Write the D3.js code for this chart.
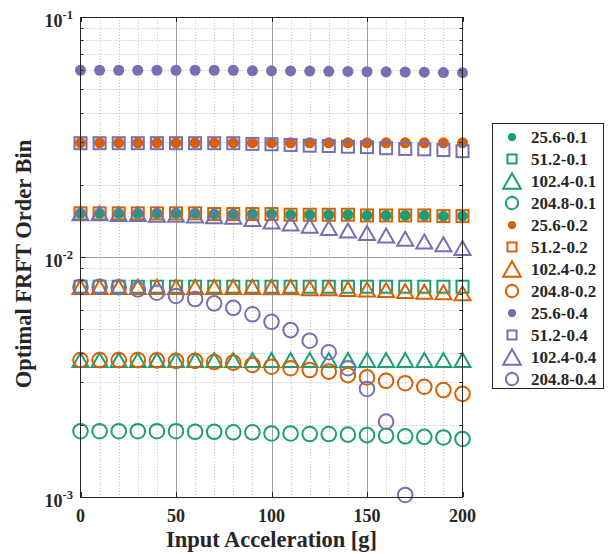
<!DOCTYPE html>
<html>
<head>
<meta charset="utf-8">
<script src="https://cdn.jsdelivr.net/npm/d3@7"></script>
<style>
  body { margin: 0; background: #fff; }
  svg text { font-family: "Liberation Serif", "Times New Roman", serif; font-weight: bold; fill: #262626; }
</style>
</head>
<body>
<svg id="chart" width="610" height="554"></svg>
<script>
// input acceleration [g]
const accel = d3.range(0, 201, 10);

// series (optimal FRFT order bin)
const g256_01  = [0.0152,0.0152,0.0152,0.0152,0.0152,0.0152,0.0152,0.0151,0.0151,0.0151,0.0151,0.0150,0.0150,0.0150,0.0150,0.0149,0.0149,0.0149,0.0149,0.0148,0.0148];
const g512_01  = [0.00752,0.00752,0.00752,0.00752,0.00752,0.00752,0.00752,0.00752,0.00752,0.00752,0.00752,0.00752,0.00752,0.00752,0.00752,0.00752,0.00752,0.00752,0.00752,0.00752,0.00752];
const g1024_01 = [0.00372,0.00372,0.00372,0.00372,0.00372,0.00372,0.00372,0.00372,0.00372,0.00372,0.00372,0.00372,0.00372,0.00372,0.00372,0.00372,0.00372,0.00372,0.00372,0.00372,0.00372];
const g2048_01 = [0.00188,0.00188,0.00188,0.00188,0.00188,0.00188,0.00187,0.00187,0.00186,0.00186,0.00184,0.00184,0.00183,0.00183,0.00182,0.00181,0.00180,0.00179,0.00178,0.00177,0.001745];
const o256_02  = [0.0299,0.0299,0.0299,0.0299,0.0299,0.0299,0.0299,0.0299,0.0299,0.0299,0.0299,0.0299,0.0299,0.0299,0.0299,0.0299,0.0299,0.0299,0.0299,0.0299,0.0299];
const o512_02  = [0.0152,0.0152,0.0152,0.0152,0.0152,0.0152,0.0152,0.0151,0.0151,0.0151,0.0151,0.0150,0.0150,0.0150,0.0150,0.0149,0.0149,0.0149,0.0149,0.0148,0.0148];
const o1024_02 = [0.0075,0.0075,0.0075,0.0075,0.0075,0.0075,0.0075,0.0075,0.0075,0.0075,0.00748,0.00748,0.00741,0.00741,0.00736,0.00733,0.00729,0.00722,0.00717,0.00713,0.00706];
const o2048_02 = [0.00372,0.00372,0.00372,0.00372,0.00371,0.00369,0.00369,0.00365,0.00363,0.00355,0.00349,0.00344,0.00338,0.00333,0.00322,0.00315,0.00305,0.00298,0.00288,0.00279,0.00269];
const p256_04  = [0.0600,0.0600,0.0600,0.0600,0.0600,0.0600,0.0600,0.0600,0.0600,0.0597,0.0597,0.0596,0.0595,0.0594,0.0593,0.0592,0.0591,0.0590,0.0589,0.0587,0.0586];
const p512_04  = [0.0298,0.0298,0.0298,0.0298,0.0298,0.0298,0.0298,0.0298,0.0298,0.0296,0.0295,0.0293,0.0291,0.0290,0.0288,0.0287,0.0284,0.0282,0.0281,0.0279,0.0276];
const p1024_04 = [0.0152,0.0152,0.0151,0.0151,0.0150,0.0150,0.0149,0.0148,0.0147,0.0144,0.01405,0.0138,0.0135,0.0132,0.0129,0.0126,0.0123,0.0119,0.0116,0.0113,0.0109];
const p2048_04 = [0.00752,0.00752,0.00748,0.00733,0.00710,0.00688,0.00668,0.00641,0.00614,0.00577,0.00537,0.00496,0.00448,0.00401,0.00344,0.00282,0.00206,0.00102,null,null,null];

const seriesNames = ["25.6-0.1","51.2-0.1","102.4-0.1","204.8-0.1","25.6-0.2","51.2-0.2","102.4-0.2","204.8-0.2","25.6-0.4","51.2-0.4","102.4-0.4","204.8-0.4"];
const seriesValues = [g256_01,g512_01,g1024_01,g2048_01,o256_02,o512_02,o1024_02,o2048_02,p256_04,p512_04,p1024_04,p2048_04];
const xTicks = [0, 50, 100, 150, 200];
const yTicks = [1e-3, 1e-2, 1e-1];

const colors = ["#1b9e77", "#d95f02", "#7570b3"];
const shapes = ["dot", "square", "triangle", "circle"];

const svg = d3.select("#chart");
const L = 80.5, R = 462.5, T = 17, B = 497;

const x = d3.scaleLinear().domain([0, 200]).range([L, R]);
const y = d3.scaleLog().domain([1e-3, 1e-1]).range([B, T]);

// --- grid ---
const grid = svg.append("g");
const minorX = d3.range(10, 200, 10).filter(v => v % 50 !== 0);
grid.selectAll(".mx").data(minorX).enter().append("line")
  .attr("x1", d => Math.round(x(d)) + 0.5).attr("x2", d => Math.round(x(d)) + 0.5)
  .attr("y1", T).attr("y2", B)
  .attr("stroke", "#c4c4c4").attr("stroke-width", 1).attr("stroke-dasharray", "1,2");
const minorY = [];
[1e-3, 1e-2].forEach(dec => { for (let k = 2; k <= 9; k++) minorY.push(dec * k); });
grid.selectAll(".my").data(minorY).enter().append("line")
  .attr("x1", L).attr("x2", R)
  .attr("y1", d => Math.round(y(d)) + 0.5).attr("y2", d => Math.round(y(d)) + 0.5)
  .attr("stroke", "#b8b8b8").attr("stroke-width", 1).attr("stroke-dasharray", "1,2");
grid.selectAll(".Mx").data([50, 100, 150]).enter().append("line")
  .attr("x1", d => Math.round(x(d)) + 0.5).attr("x2", d => Math.round(x(d)) + 0.5)
  .attr("y1", T).attr("y2", B)
  .attr("stroke", "#a0a0a0").attr("stroke-width", 1);
grid.selectAll(".My").data([1e-2]).enter().append("line")
  .attr("x1", L).attr("x2", R)
  .attr("y1", d => Math.round(y(d)) + 0.5).attr("y2", d => Math.round(y(d)) + 0.5)
  .attr("stroke", "#a0a0a0").attr("stroke-width", 1);

// --- markers ---
function drawMarker(g, shape, color, cx, cy, s) {
  if (shape === "dot") {
    g.append("circle").attr("cx", cx).attr("cy", cy).attr("r", 5.5 * s).attr("fill", color);
  } else if (shape === "square") {
    const h = 6 * s;
    g.append("rect").attr("x", cx - h).attr("y", cy - h).attr("width", 2 * h).attr("height", 2 * h)
      .attr("fill", "none").attr("stroke", color).attr("stroke-width", 2);
  } else if (shape === "triangle") {
    const w = 8 * s, h = 7 * s;
    g.append("path").attr("d", `M${cx},${cy - h}L${cx + w},${cy + h}L${cx - w},${cy + h}Z`)
      .attr("fill", "none").attr("stroke", color).attr("stroke-width", 2).attr("stroke-linejoin", "miter");
  } else {
    g.append("circle").attr("cx", cx).attr("cy", cy).attr("r", 7.3 * s)
      .attr("fill", "none").attr("stroke", color).attr("stroke-width", 2);
  }
}

const marks = svg.append("g");
seriesValues.forEach((vals, i) => {
  const color = colors[Math.floor(i / 4)];
  const shape = shapes[i % 4];
  const g = marks.append("g");
  vals.forEach((v, j) => {
    if (v == null) return;
    drawMarker(g, shape, color, x(accel[j]), y(v), 1);
  });
});

// --- axes box and ticks ---
const ax = svg.append("g").attr("stroke", "#262626").attr("stroke-width", 1);
ax.append("rect").attr("x", L).attr("y", T + 0.5).attr("width", R - L).attr("height", B - T)
  .attr("fill", "none");
xTicks.forEach(t => {
  const px = Math.round(x(t)) + 0.5;
  ax.append("line").attr("x1", px).attr("x2", px).attr("y1", B).attr("y2", B - 5);
  ax.append("line").attr("x1", px).attr("x2", px).attr("y1", T).attr("y2", T + 5);
});
minorY.concat([1e-2]).forEach(t => {
  const py = Math.round(y(t)) + 0.5;
  const len = t === 1e-2 ? 5 : 3;
  ax.append("line").attr("x1", L).attr("x2", L + len).attr("y1", py).attr("y2", py);
  ax.append("line").attr("x1", R).attr("x2", R - len).attr("y1", py).attr("y2", py);
});

// tick labels
svg.append("g").selectAll("text").data(xTicks).enter().append("text")
  .attr("x", d => x(d)).attr("y", 522)
  .attr("text-anchor", "middle").attr("font-size", 18)
  .text(d => d);

const yl = svg.append("g").selectAll("text").data(yTicks).enter().append("text")
  .attr("x", 73).attr("y", d => y(d) + 10)
  .attr("text-anchor", "end").attr("font-size", 18);
yl.append("tspan").text("10");
yl.append("tspan").attr("font-size", 12.5).attr("dy", -8).text(d => Math.round(Math.log10(d)));

// axis titles
svg.append("text").attr("x", (L + R) / 2).attr("y", 547)
  .attr("text-anchor", "middle").attr("font-size", 22.5)
  .text("Input Acceleration [g]");
svg.append("text").attr("transform", `translate(31,264) rotate(-90)`)
  .attr("text-anchor", "middle").attr("font-size", 22.5)
  .text("Optimal FRFT Order Bin");

// --- legend ---
const lg = svg.append("g");
lg.append("rect").attr("x", 492.5).attr("y", 123.5).attr("width", 111).attr("height", 265)
  .attr("fill", "#fff").attr("stroke", "#262626").attr("stroke-width", 1);
seriesNames.forEach((name, i) => {
  const cy = 137 + i * 22;
  const color = colors[Math.floor(i / 4)];
  const shape = shapes[i % 4];
  const scale = shape === "dot" ? 0.75 : shape === "square" ? 0.75 : shape === "triangle" ? 1.1 : 0.85;
  drawMarker(lg, shape, color, 512, cy, scale);
  lg.append("text").attr("x", 531).attr("y", cy + 6).attr("font-size", 17).text(name);
});
</script>
</body>
</html>
